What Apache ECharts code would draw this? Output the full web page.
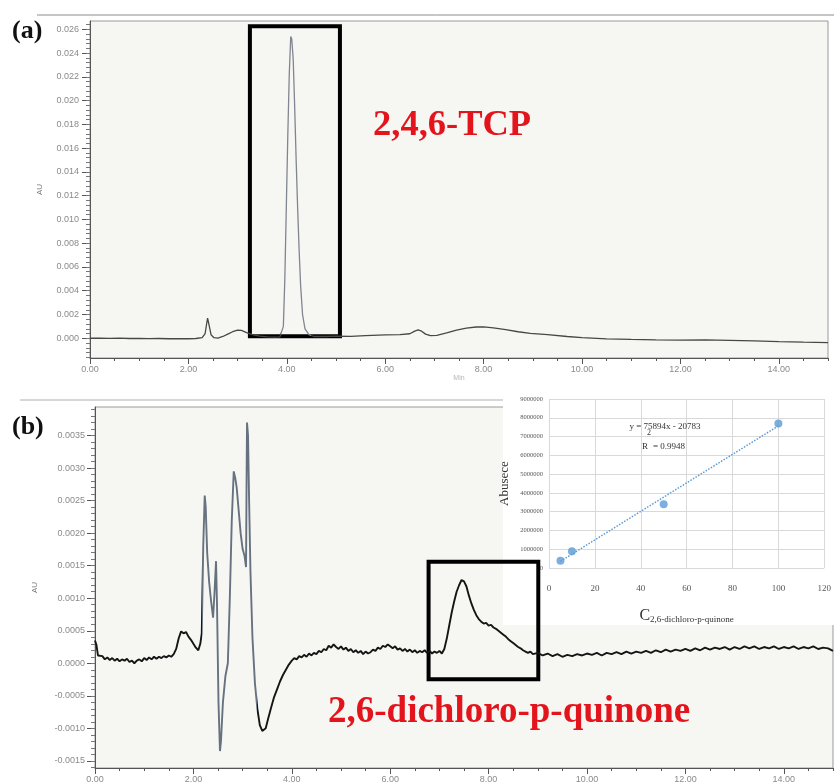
<!DOCTYPE html>
<html>
<head>
<meta charset="utf-8">
<script src="https://cdn.jsdelivr.net/npm/echarts@6/dist/echarts.min.js"></script>
<style>
html,body{margin:0;padding:0;background:#fff;}
#c{width:834px;height:784px;}
</style>
</head>
<body>
<div id="c"></div>
<script>
// ---------- DATA ----------
// (a) chromatogram: retention time (min), absorbance (AU)
const traceA = [
  [0.00, 0.00000],[0.20, 0.00002],[0.40,-0.00001],[0.60, 0.00001],[0.80,-0.00002],
  [1.00,-0.00001],[1.20,-0.00003],[1.40,-0.00002],[1.60,-0.00004],[1.80,-0.00003],
  [2.00,-0.00004],[2.15,-0.00002],[2.28, 0.00005],[2.34, 0.00040],[2.37, 0.00120],
  [2.39, 0.00170],[2.42, 0.00110],[2.46, 0.00030],[2.52, 0.00005],[2.60, 0.00002],
  [2.70, 0.00015],[2.80, 0.00035],[2.90, 0.00055],[3.00, 0.00068],[3.08, 0.00066],
  [3.18, 0.00048],[3.30, 0.00030],[3.45, 0.00018],[3.60, 0.00012],[3.75, 0.00010],
  [3.86, 0.00012],[3.90, 0.00025],[3.93, 0.00100],[3.96, 0.00500],[3.99, 0.01100],
  [4.02, 0.01700],[4.05, 0.02220],[4.08, 0.02540],[4.10, 0.02520],[4.13, 0.02350],
  [4.16, 0.01950],[4.19, 0.01500],[4.22, 0.01100],[4.25, 0.00750],[4.28, 0.00450],
  [4.32, 0.00200],[4.37, 0.00080],[4.45, 0.00030],[4.55, 0.00015],[4.80, 0.00015],
  [5.00, 0.00018],[5.30, 0.00016],[5.60, 0.00022],[6.00, 0.00028],[6.30, 0.00030],
  [6.50, 0.00038],[6.60, 0.00060],[6.67, 0.00070],[6.74, 0.00060],[6.82, 0.00035],
  [6.92, 0.00022],[7.05, 0.00025],[7.25, 0.00045],[7.45, 0.00068],[7.65, 0.00085],
  [7.85, 0.00095],[8.00, 0.00096],[8.20, 0.00088],[8.45, 0.00072],[8.70, 0.00055],
  [8.95, 0.00042],[9.30, 0.00030],[9.70, 0.00015],[10.00, 0.00005],[10.50,-0.00005],
  [11.00,-0.00010],[11.50,-0.00013],[12.00,-0.00015],[12.50,-0.00014],[13.00,-0.00017],
  [13.50,-0.00022],[14.00,-0.00028],[14.50,-0.00033],[15.00,-0.00036]
];

// (b) chromatogram: retention time (min), absorbance (AU)
const traceB = [
  [0.00,0.00035],[0.03,0.00028],[0.06,0.00012],[0.10,0.00009],[0.15,0.00011],[0.20,0.00006],
  [0.25,0.00009],[0.30,0.00005],[0.35,0.00008],[0.40,0.00004],[0.45,0.00007],[0.50,0.00003],
  [0.55,0.00006],[0.60,0.00004],[0.65,0.00007],[0.70,0.00002],[0.75,0.00004],[0.80,0.00000],
  [0.85,0.00004],[0.90,0.00006],[0.95,0.00003],[1.00,0.00008],[1.05,0.00005],[1.10,0.00009],
  [1.15,0.00006],[1.20,0.00010],[1.25,0.00007],[1.30,0.00010],[1.35,0.00008],[1.40,0.00011],
  [1.45,0.00009],[1.50,0.00012],[1.55,0.00010],[1.60,0.00014],[1.65,0.00022],[1.70,0.00038],
  [1.75,0.00049],[1.80,0.00046],[1.85,0.00048],[1.90,0.00041],[1.95,0.00036],[2.00,0.00030],
  [2.05,0.00024],[2.10,0.00020],[2.14,0.00030],[2.17,0.00046],[2.20,0.00180],[2.23,0.00258],
  [2.25,0.00240],[2.28,0.00170],[2.32,0.00125],[2.36,0.00095],[2.40,0.00070],[2.43,0.00110],
  [2.46,0.00157],[2.48,0.00090],[2.51,-0.00060],[2.54,-0.00135],[2.56,-0.00120],[2.60,-0.00060],
  [2.65,-0.00020],[2.70,0.00000],[2.74,0.00100],[2.78,0.00220],[2.82,0.00295],[2.85,0.00285],
  [2.88,0.00270],[2.92,0.00235],[2.96,0.00200],[3.00,0.00176],[3.04,0.00165],[3.07,0.00148],
  [3.08,0.00270],[3.09,0.00370],[3.11,0.00350],[3.13,0.00260],[3.16,0.00140],[3.20,0.00040],
  [3.25,-0.00030],[3.30,-0.00070],[3.35,-0.00095],[3.40,-0.00104],[3.43,-0.00107],[3.47,-0.00100],
  [3.52,-0.00085],[3.58,-0.00068],[3.64,-0.00052],[3.70,-0.00040],[3.76,-0.00028],[3.82,-0.00018],
  [3.88,-0.00010],[3.94,-0.00002],[4.00,0.00004],[4.05,0.00008],[4.10,0.00006],[4.15,0.00011],
  [4.20,0.00009],[4.25,0.00013],[4.30,0.00010],[4.35,0.00015],[4.40,0.00012],[4.45,0.00016],
  [4.50,0.00014],[4.55,0.00019],[4.60,0.00017],[4.65,0.00022],[4.70,0.00020],[4.75,0.00027],
  [4.80,0.00024],[4.85,0.00029],[4.90,0.00025],[4.95,0.00022],[5.00,0.00026],[5.05,0.00021],
  [5.10,0.00024],[5.15,0.00019],[5.20,0.00022],[5.25,0.00017],[5.30,0.00020],[5.35,0.00016],
  [5.40,0.00019],[5.45,0.00014],[5.50,0.00018],[5.55,0.00015],[5.60,0.00017],[5.65,0.00021],
  [5.70,0.00019],[5.75,0.00024],[5.80,0.00022],[5.85,0.00027],[5.90,0.00025],[5.95,0.00029],
  [6.00,0.00026],[6.05,0.00023],[6.10,0.00026],[6.15,0.00021],[6.20,0.00023],[6.25,0.00019],
  [6.30,0.00022],[6.35,0.00018],[6.40,0.00021],[6.45,0.00017],[6.50,0.00020],[6.55,0.00016],
  [6.60,0.00019],[6.65,0.00017],[6.70,0.00020],[6.75,0.00016],[6.80,0.00019],[6.85,0.00015],
  [6.90,0.00018],[6.95,0.00016],[7.00,0.00019],[7.05,0.00015],[7.10,0.00022],[7.15,0.00038],
  [7.20,0.00058],[7.25,0.00078],[7.30,0.00095],[7.35,0.00110],[7.40,0.00120],[7.45,0.00128],
  [7.50,0.00126],[7.55,0.00118],[7.60,0.00104],[7.65,0.00092],[7.70,0.00082],[7.75,0.00074],
  [7.80,0.00068],[7.85,0.00064],[7.90,0.00061],[7.95,0.00062],[8.00,0.00058],[8.05,0.00059],
  [8.10,0.00055],[8.15,0.00053],[8.20,0.00050],[8.25,0.00047],[8.30,0.00044],[8.35,0.00041],
  [8.40,0.00037],[8.45,0.00034],[8.50,0.00031],[8.55,0.00028],[8.60,0.00025],[8.65,0.00023],
  [8.70,0.00020],[8.75,0.00018],[8.80,0.00016],[8.85,0.00018],[8.90,0.00014],[9.00,0.00016],
  [9.10,0.00012],[9.20,0.00015],[9.30,0.00011],[9.40,0.00014],[9.50,0.00010],[9.60,0.00013],
  [9.70,0.00011],[9.80,0.00014],[9.90,0.00012],[10.00,0.00015],[10.10,0.00013],[10.20,0.00016],
  [10.30,0.00012],[10.40,0.00016],[10.50,0.00014],[10.60,0.00017],[10.70,0.00014],[10.80,0.00018],
  [10.90,0.00015],[11.00,0.00018],[11.10,0.00016],[11.20,0.00019],[11.30,0.00016],[11.40,0.00020],
  [11.50,0.00017],[11.60,0.00021],[11.70,0.00018],[11.80,0.00021],[11.90,0.00019],[12.00,0.00022],
  [12.10,0.00019],[12.20,0.00023],[12.30,0.00020],[12.40,0.00024],[12.50,0.00021],[12.60,0.00024],
  [12.70,0.00022],[12.80,0.00025],[12.90,0.00021],[13.00,0.00025],[13.10,0.00022],[13.20,0.00026],
  [13.30,0.00023],[13.40,0.00026],[13.50,0.00022],[13.60,0.00025],[13.70,0.00023],[13.80,0.00026],
  [13.90,0.00022],[14.00,0.00025],[14.10,0.00023],[14.20,0.00026],[14.30,0.00022],[14.40,0.00025],
  [14.50,0.00023],[14.60,0.00026],[14.70,0.00022],[14.80,0.00024],[14.90,0.00023],[15.00,0.00019]
];

// inset calibration: concentration vs peak area
const calConc = [5, 10, 50, 100];
const calArea = [390000, 890000, 3400000, 7700000];
// trendline endpoints (y = 75894x - 20783)
const fitConc = [5, 100];
const fitArea = [358687, 7568617];

// highlighted windows (data units): [xmin, xmax, ymin, ymax]
const boxA = [3.25, 5.08, 0.00017, 0.02625];
const boxB = [6.78, 9.01, -0.000245, 0.00156];

// tick labels
const xTicks = [0, 2, 4, 6, 8, 10, 12, 14];
const yTicksA = [0, 0.002, 0.004, 0.006, 0.008, 0.010, 0.012, 0.014, 0.016, 0.018, 0.020, 0.022, 0.024, 0.026];
const yTicksB = [-0.0015, -0.0010, -0.0005, 0, 0.0005, 0.0010, 0.0015, 0.0020, 0.0025, 0.0030, 0.0035];

// ---------- derived ----------
function steps(a, b, s) { const r = []; for (let i = 0; a + i * s <= b + 1e-12; i++) r.push(+(a + i * s).toFixed(6)); return r; }
const xMinor = steps(0, 15, 0.5);
const yMinorA = steps(-0.0016, 0.0268, 0.0004);
const yMinorB = steps(-0.0016, 0.0039, 0.0001);

const A = { min: -0.00166, max: 0.0267 };
const B = { min: -0.00161, max: 0.00394 };

const tickFont = { color: '#8a8a8a', fontSize: 9, fontFamily: 'Liberation Sans' };
const axisCol = '#555';

function mainX(grid, minor) {
  return {
    gridIndex: grid, type: 'value', min: 0, max: 15, position: 'bottom',
    axisLine: { show: !minor, onZero: false, lineStyle: { color: axisCol, width: 1 } },
    axisTick: { show: true, length: minor ? 3 : 6, customValues: minor ? xMinor : xTicks, lineStyle: { color: axisCol } },
    axisLabel: minor ? { show: false } : Object.assign({ customValues: xTicks, formatter: v => v.toFixed(2), margin: 7 }, tickFont),
    splitLine: { show: false }
  };
}
function mainY(grid, ext, ticks, minorTicks, dec, minor, gap, margin) {
  const o = {
    gridIndex: grid, type: 'value', min: ext.min, max: ext.max, position: 'left',
    axisLine: { show: !minor, onZero: false, lineStyle: { color: axisCol, width: 1 } },
    axisTick: { show: true, length: minor ? 4 : 8, customValues: minor ? minorTicks : ticks, lineStyle: { color: minor ? '#777' : axisCol } },
    axisLabel: minor ? { show: false } : Object.assign({ customValues: ticks, formatter: v => v.toFixed(dec), margin: margin }, tickFont),
    splitLine: { show: false }
  };
  if (!minor) {
    o.name = 'AU'; o.nameLocation = 'middle'; o.nameGap = gap;
    o.nameTextStyle = { color: '#777', fontSize: 8, fontFamily: 'Liberation Sans' };
  }
  return o;
}

const xA = mainX(0, false);
xA.name = 'Min'; xA.nameLocation = 'middle'; xA.nameGap = 17;
xA.nameTextStyle = { color: '#b5b5b5', fontSize: 7, fontFamily: 'Liberation Sans' };

const serif = 'Liberation Serif';

const option = {
  animation: false,
  backgroundColor: '#ffffff',
  grid: [
    { left: 90, top: 21, right: 6, bottom: 426, show: true, backgroundColor: '#f6f6f3', borderColor: '#9a9a9a', borderWidth: 1 },
    { left: 95, top: 407, right: 1, bottom: 13, show: true, backgroundColor: '#f6f6f3', borderColor: '#9a9a9a', borderWidth: 1 },
    { left: 549, top: 399, right: 2, bottom: 216 }
  ],
  xAxis: [
    xA, mainX(0, true),
    mainX(1, false), mainX(1, true),
    {
      gridIndex: 2, type: 'value', min: 0, max: 120, interval: 20, z: 3,
      axisLine: { show: false, onZero: false }, axisTick: { show: false },
      splitLine: { show: true, lineStyle: { color: '#d9d9d9', width: 1 } },
      axisLabel: { color: '#555', fontSize: 9, fontFamily: serif, margin: 16 },
      name: '{c|C}{s|2,6-dichloro-p-quinone}', nameLocation: 'middle', nameGap: 38,
      nameTextStyle: {
        rich: {
          c: { fontSize: 16, fontFamily: serif, color: '#333', verticalAlign: 'bottom', lineHeight: 18 },
          s: { fontSize: 9, fontFamily: serif, color: '#333', verticalAlign: 'bottom', lineHeight: 12, padding: [6, 0, 0, 0] }
        }
      }
    }
  ],
  yAxis: [
    mainY(0, A, yTicksA, yMinorA, 3, false, 46, 11), mainY(0, A, yTicksA, yMinorA, 3, true),
    mainY(1, B, yTicksB, yMinorB, 4, false, 56, 10), mainY(1, B, yTicksB, yMinorB, 4, true),
    {
      gridIndex: 2, type: 'value', min: 0, max: 9000000, interval: 1000000, z: 3,
      axisLine: { show: false, onZero: false }, axisTick: { show: false },
      splitLine: { show: true, lineStyle: { color: '#d9d9d9', width: 1 } },
      axisLabel: { color: '#555', fontSize: 6.5, fontFamily: serif, margin: 6, formatter: v => String(v) },
      name: 'Abusece', nameLocation: 'middle', nameGap: 38,
      nameTextStyle: { fontSize: 13, fontFamily: serif, color: '#333' }
    }
  ],
  visualMap: [
    { type: 'piecewise', show: false, seriesIndex: 0, dimension: 0,
      pieces: [{ lt: 3.88, color: '#474747' }, { gte: 3.88, lte: 4.5, color: '#80858f' }, { gt: 4.5, color: '#474747' }] },
    { type: 'piecewise', show: false, seriesIndex: 1, dimension: 0,
      pieces: [{ lt: 2.17, color: '#151515' }, { gte: 2.17, lte: 3.3, color: '#66727f' }, { gt: 3.3, color: '#151515' }] }
  ],
  series: [
    {
      type: 'line', xAxisIndex: 0, yAxisIndex: 0, data: traceA, showSymbol: false, symbol: 'none',
      lineStyle: { width: 1.3 }, z: 2,
      markArea: {
        silent: true,
        itemStyle: { color: 'rgba(0,0,0,0)', borderColor: '#000', borderWidth: 4 },
        data: [[{ xAxis: boxA[0], yAxis: boxA[3] }, { xAxis: boxA[1], yAxis: boxA[2] }]]
      }
    },
    {
      type: 'line', xAxisIndex: 2, yAxisIndex: 2, data: traceB, showSymbol: false, symbol: 'none',
      lineStyle: { width: 1.9 }, z: 2,
      markArea: {
        silent: true,
        itemStyle: { color: 'rgba(0,0,0,0)', borderColor: '#000', borderWidth: 4 },
        data: [[{ xAxis: boxB[0], yAxis: boxB[3] }, { xAxis: boxB[1], yAxis: boxB[2] }]]
      }
    },
    {
      type: 'line', xAxisIndex: 4, yAxisIndex: 4, z: 4,
      data: fitConc.map((c, i) => [c, fitArea[i]]), showSymbol: false, symbol: 'none',
      lineStyle: { color: '#5b9bd5', width: 1.5, type: 'dotted' }
    },
    {
      type: 'scatter', xAxisIndex: 4, yAxisIndex: 4, z: 5,
      data: calConc.map((c, i) => [c, calArea[i]]), symbolSize: 8,
      itemStyle: { color: '#5b9bd5' }
    }
  ],
  graphic: [
    { type: 'line', z: 1, shape: { x1: 37, y1: 15, x2: 834, y2: 15 }, style: { stroke: '#8c8c8c', lineWidth: 1 } },
    { type: 'line', z: 1, shape: { x1: 20, y1: 400, x2: 503, y2: 400 }, style: { stroke: '#b0b0b0', lineWidth: 1 } },
    { type: 'rect', z: 1, shape: { x: 503, y: 391, width: 331, height: 234 }, style: { fill: '#ffffff' } },
    { type: 'text', z: 10, x: 12, y: 31, style: { text: '(a)', font: 'bold 26px "Liberation Serif"', fill: '#111', verticalAlign: 'middle' } },
    { type: 'text', z: 10, x: 12, y: 427, style: { text: '(b)', font: 'bold 26px "Liberation Serif"', fill: '#111', verticalAlign: 'middle' } },
    { type: 'text', z: 10, x: 373, y: 126, style: { text: '2,4,6-TCP', font: 'bold 36.5px "Liberation Serif"', fill: '#e3141b', verticalAlign: 'middle' } },
    { type: 'text', z: 10, x: 328, y: 712, style: { text: '2,6-dichloro-p-quinone', font: 'bold 37px "Liberation Serif"', fill: '#e3141b', verticalAlign: 'middle' } },
    { type: 'text', z: 10, x: 665, y: 427, style: { text: 'y = 75894x - 20783', font: '9px "Liberation Serif"', fill: '#333', align: 'center', verticalAlign: 'middle' } },
    { type: 'text', z: 10, x: 642, y: 447, style: { text: 'R', font: '9px "Liberation Serif"', fill: '#333', verticalAlign: 'middle' } },
    { type: 'text', z: 10, x: 647, y: 433, style: { text: '2', font: '8px "Liberation Serif"', fill: '#333', verticalAlign: 'middle' } },
    { type: 'text', z: 10, x: 653, y: 447, style: { text: '= 0.9948', font: '9px "Liberation Serif"', fill: '#333', verticalAlign: 'middle' } }
  ]
};

const chart = echarts.init(document.getElementById('c'), null, { renderer: 'canvas' });
chart.setOption(option);
</script>
</body>
</html>
